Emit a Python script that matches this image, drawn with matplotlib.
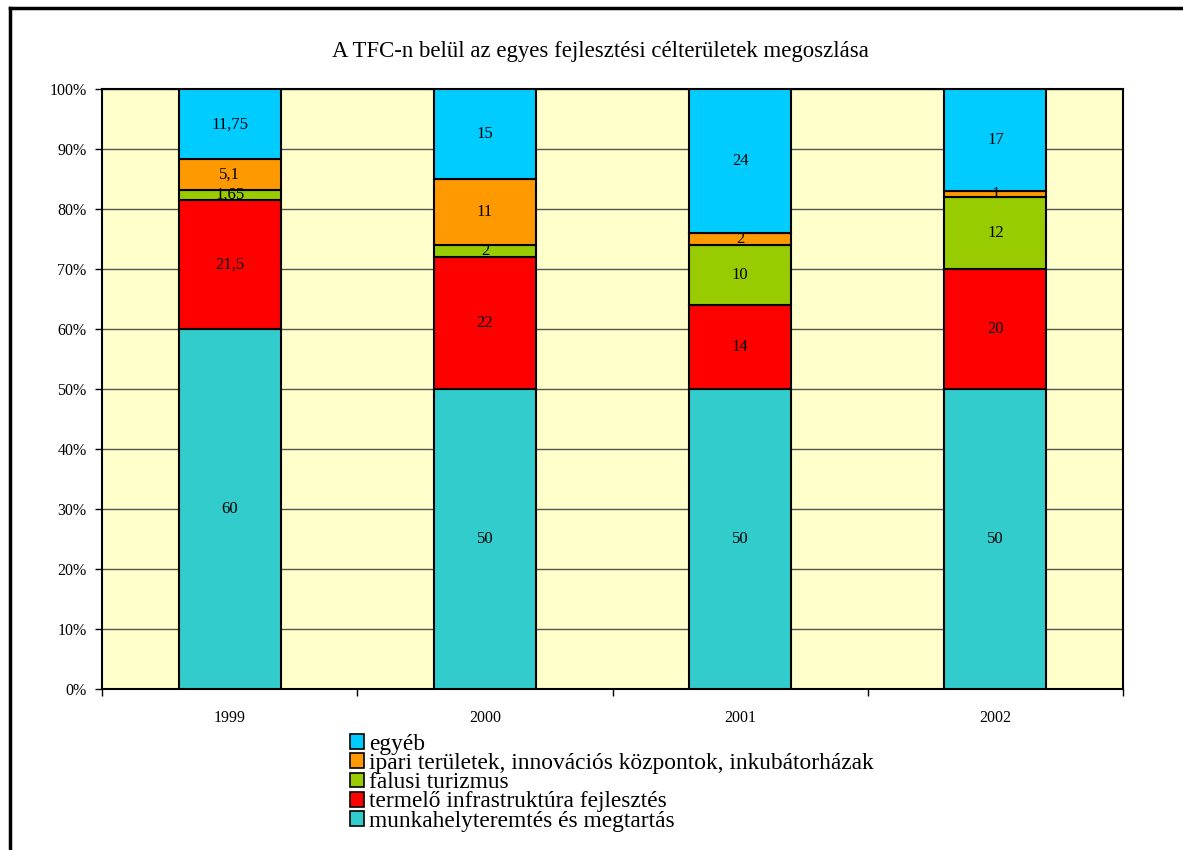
import numpy as np
import matplotlib
matplotlib.use('Agg')
from matplotlib import pyplot as plt
from matplotlib.lines import Line2D
from matplotlib.patches import Patch

plt.rcParams['font.family'] = ['Liberation Serif', 'DejaVu Serif']

years = ['1999', '2000', '2001', '2002']
categories = ['munkahelyteremtés és megtartás',
              'termelő infrastruktúra fejlesztés',
              'falusi turizmus',
              'ipari területek, innovációs központok, inkubátorházak',
              'egyéb']
munkahely = [60, 50, 50, 50]
termelo = [21.5, 22, 14, 20]
falusi = [1.65, 2, 10, 12]
ipari = [5.1, 11, 2, 1]
egyeb = [11.75, 15, 24, 17]
series = [munkahely, termelo, falusi, ipari, egyeb]
colors = ['#33CCCC', '#FF0000', '#99CC00', '#FF9900', '#00CCFF']

fig = plt.figure(figsize=(11.83, 8.5), dpi=100)
ax = fig.add_axes([102 / 1183, 1 - 689 / 850, 1021 / 1183, 600 / 850])
ax.set_facecolor('#FFFFCC')

x = np.arange(len(years))
bottom = np.zeros(len(years))
handles = []
for vals, col, name in zip(series, colors, categories):
    vals = np.array(vals, dtype=float)
    ax.bar(x, vals, 0.4, bottom=bottom, color=col, edgecolor='black',
           linewidth=1.5, zorder=3)
    for xi, b, v in zip(x, bottom, vals):
        txt = ('%g' % v).replace('.', ',')
        ax.text(xi, b + v / 2, txt, ha='center', va='center',
                fontsize=12, zorder=4)
    bottom += vals
    handles.append(Patch(facecolor=col, edgecolor='black', linewidth=1.2, label=name))

ax.set_xlim(-0.5, 3.5)
ax.set_ylim(0, 100)
ax.set_yticks(np.arange(0, 101, 10))
ax.set_yticklabels(['%d%%' % v for v in range(0, 101, 10)], fontsize=11.5)
ax.set_xticks(x)
ax.set_xticklabels(years, fontsize=11.5)
ax.set_xticks(np.arange(-0.5, 3.6, 1), minor=True)
ax.tick_params(axis='x', which='major', length=0, pad=15)
ax.tick_params(axis='x', which='minor', length=5, width=1, direction='out')
ax.tick_params(axis='y', length=5, width=1, direction='out', pad=6)
ax.yaxis.grid(True, color='#555555', linewidth=1, zorder=0)
ax.set_axisbelow(True)
for s in ax.spines.values():
    s.set_linewidth(1.5)
    s.set_color('black')

fig.text(600 / 1183, 1 - 52 / 850, 'A TFC-n belül az egyes fejlesztési célterületek megoszlása',
         ha='center', va='center', fontsize=16.4)

leg = fig.legend(handles=handles[::-1], loc='upper left',
                 bbox_to_anchor=(350 / 1183, 1 - 734 / 850), frameon=False,
                 fontsize=16.8, handlelength=0.6, handleheight=0.6,
                 handletextpad=0.2, labelspacing=-0.08, borderpad=0,
                 borderaxespad=0)

# keret a diagram körül
fig.add_artist(Line2D([10 / 1183, 10 / 1183], [0, 1 - 8 / 850], color='black',
                      linewidth=2.5, transform=fig.transFigure))
fig.add_artist(Line2D([10 / 1183, 1], [1 - 8 / 850, 1 - 8 / 850], color='black',
                      linewidth=2.5, transform=fig.transFigure))

fig.savefig('out.png', dpi=100)
